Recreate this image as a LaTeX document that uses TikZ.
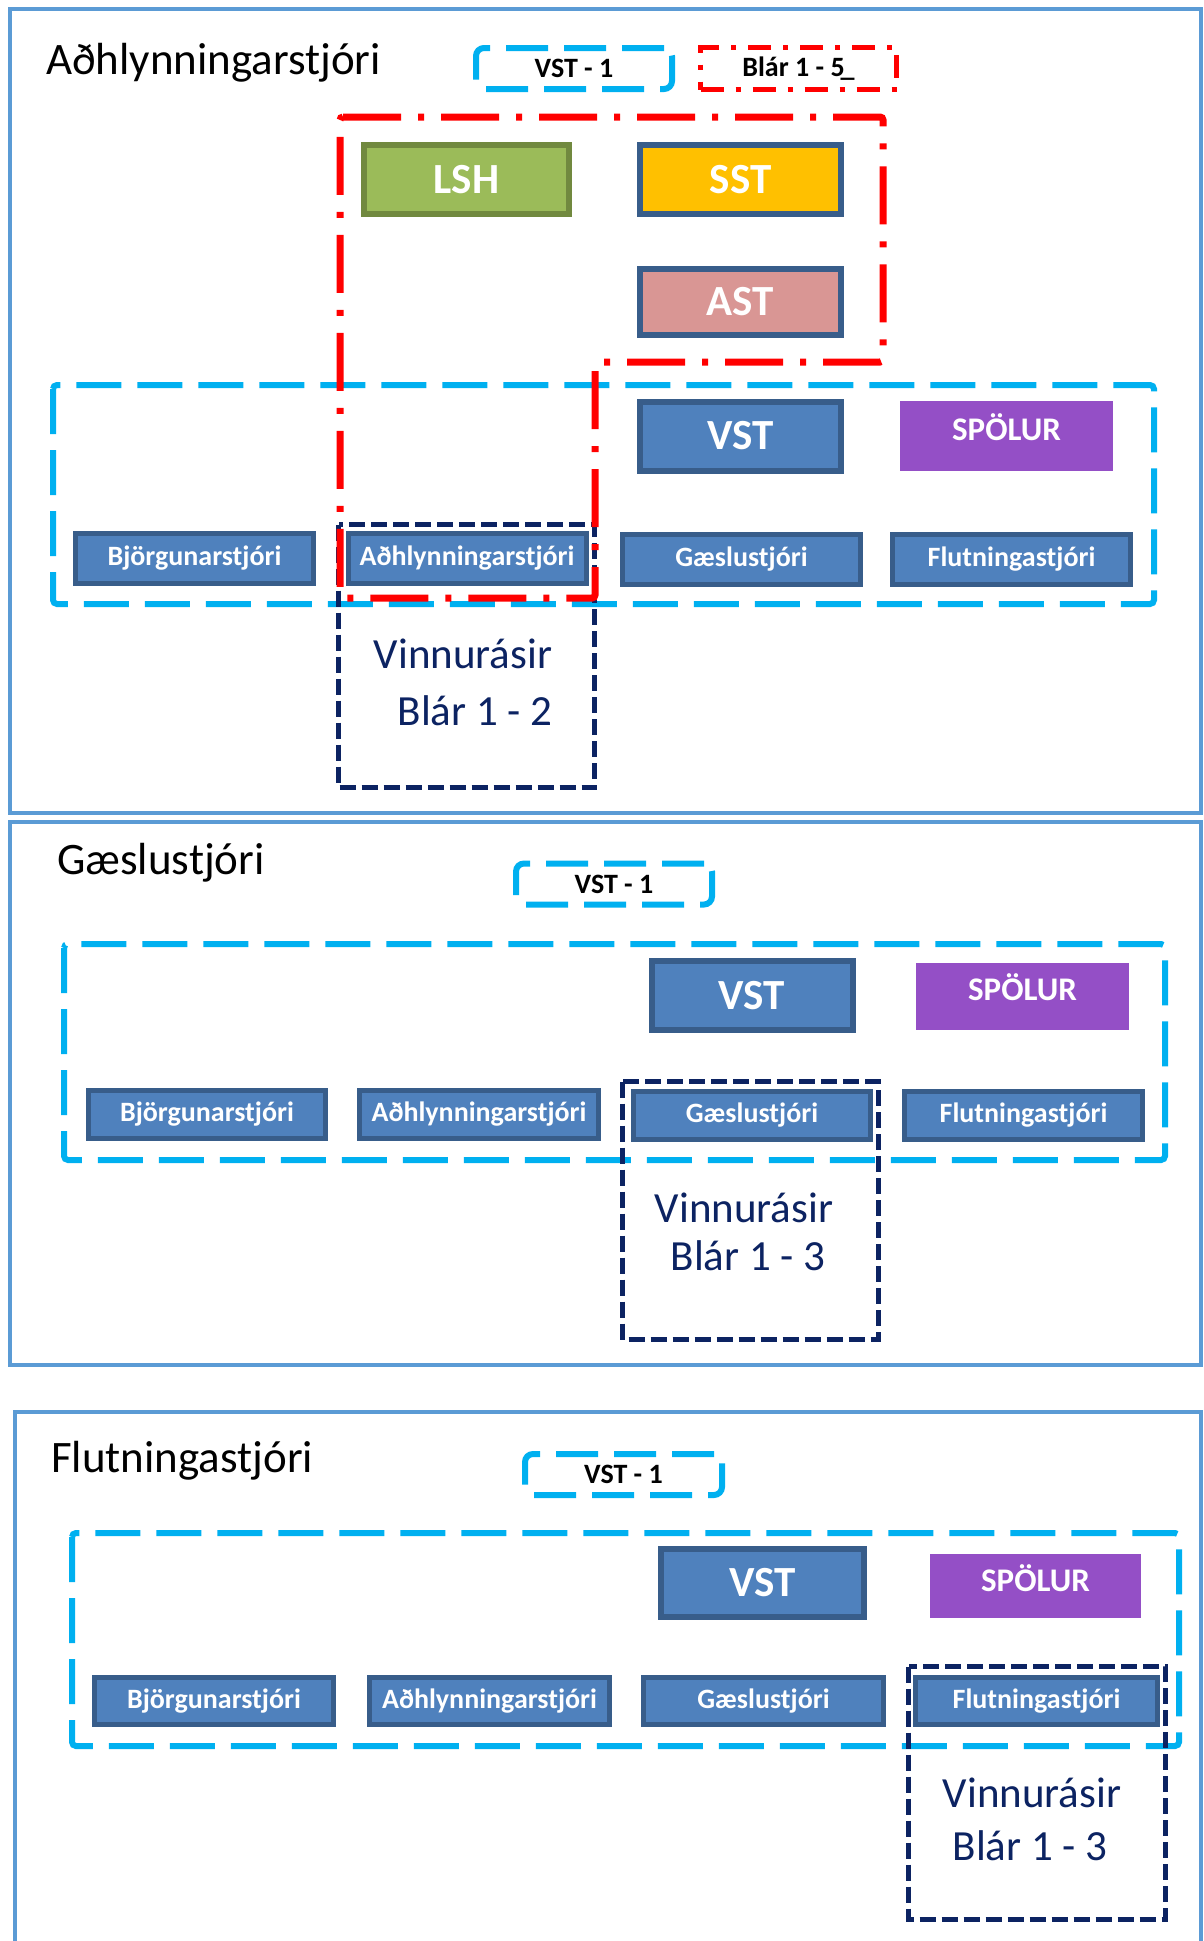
\documentclass[tikz,border=0pt]{standalone}
\usepackage{fontspec}
\setmainfont{Carlito}
\definecolor{panelc}{HTML}{5B9BD5}
\definecolor{cyanc}{HTML}{00B0F0}
\definecolor{redc}{HTML}{FF0000}
\definecolor{navyc}{HTML}{0C2362}
\definecolor{rolef}{HTML}{4F81BD}
\definecolor{roleb}{HTML}{385D8A}
\definecolor{greenf}{HTML}{9BBB59}
\definecolor{greenb}{HTML}{71893F}
\definecolor{orangef}{HTML}{FFC000}
\definecolor{pinkf}{HTML}{D99694}
\definecolor{purplef}{HTML}{944FC6}
\tikzset{
  panel/.style={draw=panelc, line width=4pt},
  grp/.style={draw=cyanc, line width=6pt, dash pattern=on 45pt off 16pt, rounded corners=4pt},
  tagc/.style={draw=cyanc, line width=6pt, dash pattern=on 42pt off 16pt, rounded corners=8pt,
    font=\bfseries\fontsize{28}{32}\selectfont, text=black, inner sep=0pt, minimum width=196pt, minimum height=41pt},
  tagr/.style={draw=redc, line width=5pt, dash pattern=on 23pt off 12pt on 5pt off 12pt,
    font=\bfseries\fontsize{28}{32}\selectfont, text=black, inner sep=0pt, minimum width=196pt, minimum height=42pt},
  redzone/.style={draw=redc, line width=7pt, dash pattern=on 58pt off 17pt on 6pt off 17pt, rounded corners=3pt},
  role/.style={draw=roleb, fill=rolef, line width=5pt, text=white, inner sep=0pt,
    font=\bfseries\fontsize{28}{32}\selectfont, minimum width=238pt, minimum height=50pt},
  big/.style={draw=roleb, line width=6pt, text=white, inner sep=0pt,
    font=\bfseries\fontsize{43}{50}\selectfont, minimum width=201pt, minimum height=69pt},
  spol/.style={fill=purplef, inner sep=0pt, minimum width=213pt, minimum height=70pt},
  spolt/.style={text=white, inner sep=0pt, font=\bfseries\fontsize{33}{38}\selectfont},
  chan/.style={draw=navyc, line width=5pt, dash pattern=on 16pt off 6pt},
  chtext/.style={text=navyc, inner sep=0pt, font=\fontsize{43}{50}\selectfont},
  ttl/.style={text=black, inner sep=0pt, font=\fontsize{45}{52}\selectfont, anchor=base west}
}
\begin{document}
\begin{tikzpicture}[x=1pt,y=-1pt]
\useasboundingbox (0,0) rectangle (1203,1941);
\fill[white] (0,0) rectangle (1203,1941);

% ---------------- Panel 1 ----------------
\draw[panel] (10,9) rectangle (1201,813);
\node[ttl] (t1) at (46,74) {Aðhlynningarstjóri};
\node[tagc] (vt1) at (574,68.5) {VST - 1};
\node[tagr] (bl15) at (798.5,68.5) {Blár 1 - 5\kern-4pt\_};
\draw[grp] (53,385) rectangle (1154,604);
\node[big, fill=greenf, draw=greenb, minimum width=205pt, minimum height=69pt] (lsh) at (466.5,179.5) {LSH};
\node[big, fill=orangef, minimum width=201pt, minimum height=69pt] (sst) at (740.5,179.5) {SST};
\node[big, fill=pinkf, minimum width=201pt, minimum height=66pt] (ast) at (740.5,302) {AST};
\node[big, fill=rolef] (vst1) at (740.5,436) {VST};
\node[spol] (sp1) at (1006.5,436) {};
\node[spolt] (sp1t) at ([yshift=9pt]sp1.center) {SPÖLUR};
\node[role] (bj1) at (194.5,558.5) {Björgunarstjóri};
\node[role] (ad1) at (467,558.5) {Aðhlynningarstjóri};
\node[role] (gae1) at (741.5,559.5) {Gæslustjóri};
\node[role] (fl1) at (1011.5,559.5) {Flutningastjóri};
\draw[chan] (338.5,524.5) rectangle (594.5,787.5);
\node[chtext, anchor=base] (v1a) at (463,668) {Vinnurásir};
\node[chtext, anchor=base] (v1b) at (475,725) {Blár 1 - 2};
\draw[redzone] (340,117) -- (883,117) -- (883,362) -- (595,362) -- (595,598) -- (340,598) -- cycle;

% ---------------- Panel 2 ----------------
\draw[panel] (10,822) rectangle (1201,1365);
\node[ttl] (t2) at (57,874) {Gæslustjóri};
\node[tagc] (vt2) at (614,884) {VST - 1};
\draw[grp] (64,944) rectangle (1165,1160);
\node[big, fill=rolef] (vst2) at (752,995.5) {VST};
\node[spol, minimum height=67pt] (sp2) at (1022.5,996.5) {};
\node[spolt] (sp2t) at ([yshift=9pt]sp2.center) {SPÖLUR};
\node[role, minimum width=237pt, minimum height=48pt] (bj2) at (207,1114.5) {Björgunarstjóri};
\node[role, minimum width=239pt, minimum height=48pt] (ad2) at (479,1114.5) {Aðhlynningarstjóri};
\node[role, minimum width=237pt, minimum height=48pt] (gae2) at (752,1115) {Gæslustjóri};
\node[role, minimum width=238pt, minimum height=48pt] (fl2) at (1023.5,1115) {Flutningastjóri};
\draw[chan] (622.5,1081.5) rectangle (878.5,1339.5);
\node[chtext, anchor=base] (v2a) at (744,1222) {Vinnurásir};
\node[chtext, anchor=base] (v2b) at (748,1270) {Blár 1 - 3};

% ---------------- Panel 3 ----------------
\draw[panel] (15,1945) -- (15,1412) -- (1201,1412) -- (1201,1945);
\node[ttl] (t3) at (51,1472) {Flutningastjóri};
\node[tagc, minimum width=197pt] (vt3) at (623.5,1474.5) {VST - 1};
\draw[grp] (72,1533) rectangle (1179,1746);
\node[big, fill=rolef, minimum width=203pt, minimum height=68pt] (vst3) at (762.5,1583) {VST};
\node[spol, minimum width=211pt, minimum height=64pt] (sp3) at (1035.5,1586) {};
\node[spolt] (sp3t) at ([yshift=8pt]sp3.center) {SPÖLUR};
\node[role, minimum width=239pt, minimum height=47pt] (bj3) at (214,1701) {Björgunarstjóri};
\node[role, minimum width=240pt, minimum height=47pt] (ad3) at (489.5,1701) {Aðhlynningarstjóri};
\node[role, minimum width=240pt, minimum height=47pt] (gae3) at (763.5,1701) {Gæslustjóri};
\node[role, minimum width=242pt, minimum height=47pt] (fl3) at (1036.5,1701) {Flutningastjóri};
\draw[chan] (908.5,1666.5) rectangle (1165.5,1919.5);
\node[chtext, anchor=base] (v3a) at (1032,1807) {Vinnurásir};
\node[chtext, anchor=base] (v3b) at (1030,1860) {Blár 1 - 3};
\end{tikzpicture}
\end{document}
